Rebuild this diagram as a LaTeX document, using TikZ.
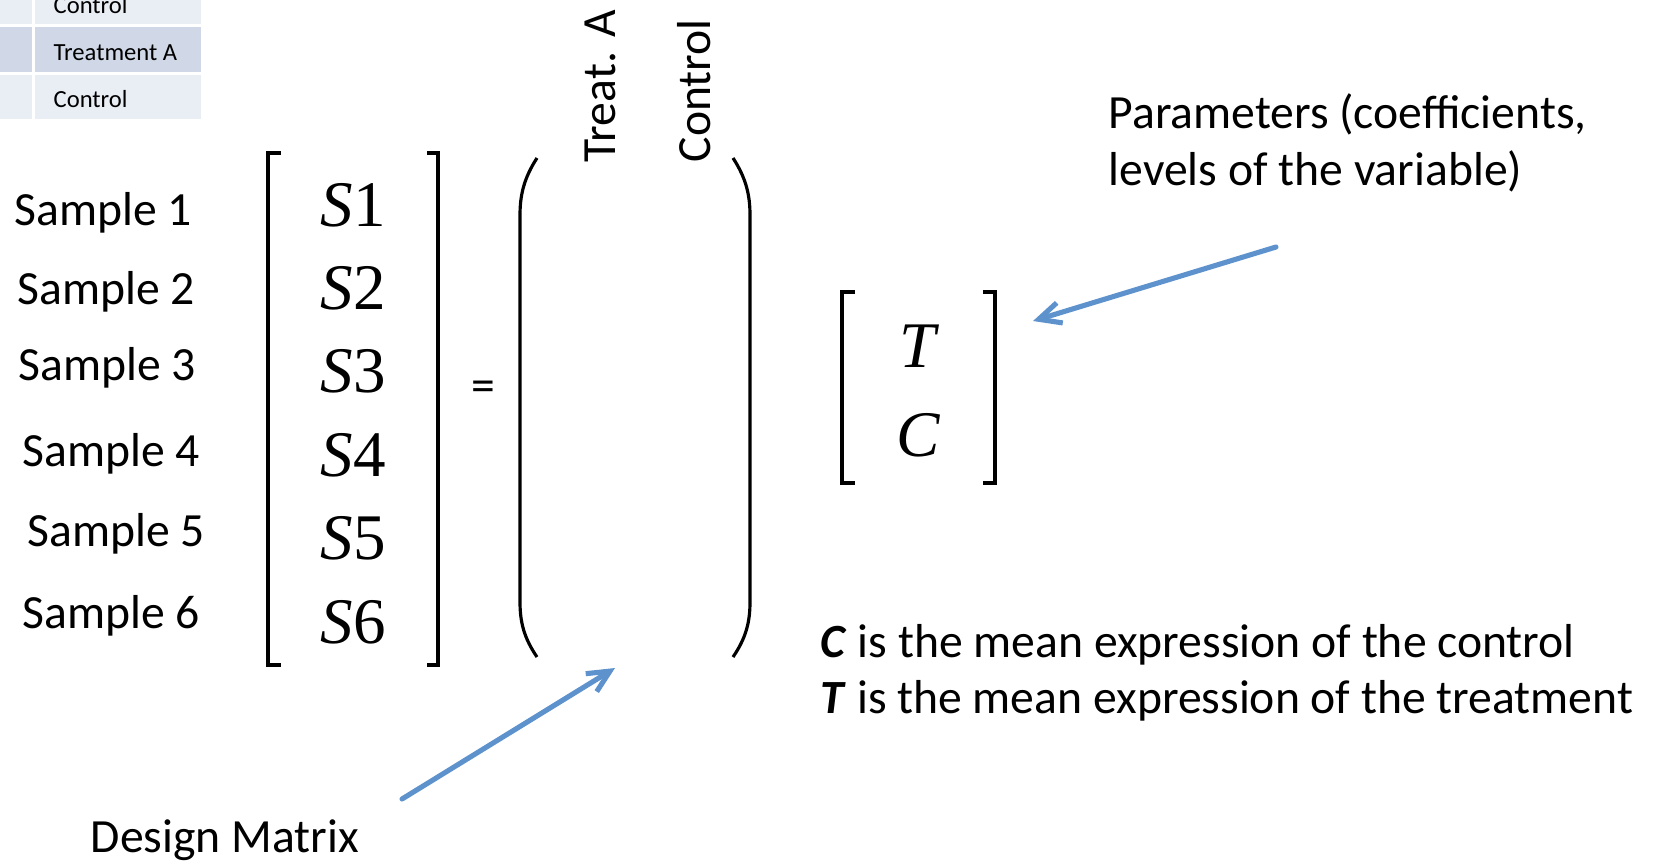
\documentclass[tikz,border=0pt]{standalone}
\usepackage{fontspec}
\setmainfont{Carlito}
\newfontfamily\timesfont{Liberation Serif}
\usetikzlibrary{arrows.meta}
\definecolor{arrowblue}{RGB}{94,146,205}
\definecolor{rowdark}{RGB}{208,216,232}
\definecolor{rowlight}{RGB}{233,237,244}

\begin{document}
\begin{tikzpicture}[
    x=0.01cm, y=-0.01cm,
    label/.style={inner sep=0pt, font=\fontsize{13.55}{16}\selectfont},
    entry/.style={inner sep=0pt, font=\fontsize{18.5}{22}\selectfont\timesfont},
    cell/.style={inner sep=0pt, anchor=base west, font=\fontsize{7}{9}\selectfont},
    brack/.style={line width=1.1pt},
    paren/.style={line width=0.9pt},
    pointer/.style={-{Straight Barb[length=2.2mm, width=2.1mm]}, line width=1.45pt, arrowblue, line cap=round, line join=round}
]
\useasboundingbox (0,0) rectangle (1655,863);

% table cut off at the top
\foreach \ytop/\ybot/\col in {-30/24/rowlight, 27/72/rowdark, 75/119/rowlight}{
  \fill[\col] (0,\ytop) rectangle (32,\ybot);
  \fill[\col] (35,\ytop) rectangle (201,\ybot);
}
\node[cell] (cell1) at (53,13) {Control};
\node[cell] (cell2) at (53,60) {Treatment A};
\node[cell] (cell3) at (53,107) {Control};

% sample labels
\foreach \i/\x/\y in {1/14/225, 2/17/304, 3/18/380, 4/22/466, 5/27/546, 6/22/628}
  \node[label, anchor=base west] (sample\i) at (\x,\y) {Sample \i};

% response vector
\draw[brack] (281,153) -- (268,153) -- (268,665) -- (281,665);
\draw[brack] (427,153) -- (438,153) -- (438,665) -- (427,665);
\foreach \i in {1,...,6}
  \node[entry, anchor=base] (s\i) at (353,{226+83.4*(\i-1)}) {{\itshape S}\i};

\node[label] (equals) at (483,391) {=};

% design matrix
\draw[paren] (537,158) .. controls (524,178) and (520,195) .. (520,215) -- (520,602)
  .. controls (520,622) and (524,638) .. (537,657);
\draw[paren] (733,158) .. controls (746,178) and (750,195) .. (750,215) -- (750,602)
  .. controls (750,622) and (746,638) .. (733,657);
\node[label, rotate=90, anchor=base west] (treat) at (615,163) {Treat. A};
\node[label, rotate=90, anchor=base west] (control) at (710,163) {Control};

% parameters
\draw[brack] (855,292) -- (842,292) -- (842,483) -- (855,483);
\draw[brack] (983,292) -- (995,292) -- (995,483) -- (983,483);
\node[entry, anchor=base] (tpar) at (918,367) {\itshape T};
\node[entry, anchor=base] (cpar) at (918,456) {\itshape C};

\node[label, anchor=base west, align=left] (params) at (1108,185)
  {Parameters (coefficients,\\levels of the variable)};
\node[label, anchor=base west] (cnote) at (820,657) {\textbf{\textit{C}} is the mean expression of the control};
\node[label, anchor=base west] (tnote) at (820,713) {\textbf{\textit{T}} is the mean expression of the treatment};
\node[label, anchor=base west] (design) at (90,852) {Design Matrix};

% pointers
\coordinate (parfrom) at (1276,247);
\coordinate (parto) at (1033,321);
\coordinate (desfrom) at (402,799);
\coordinate (desto) at (615,668);
\draw[pointer] (parfrom) -- (parto);
\draw[pointer] (desfrom) -- (desto);
\end{tikzpicture}
\end{document}
